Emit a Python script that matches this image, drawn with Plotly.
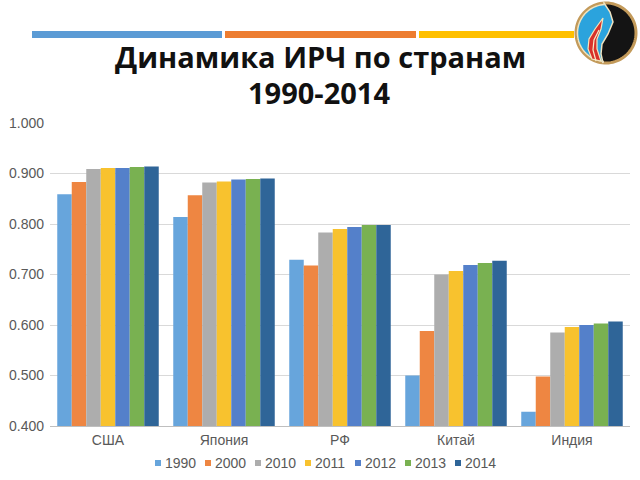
import numpy as np
import plotly.graph_objects as go

countries = ["США", "Япония", "РФ", "Китай", "Индия"]
years = ["1990", "2000", "2010", "2011", "2012", "2013", "2014"]
hdi_1990 = [0.859, 0.814, 0.729, 0.500, 0.428]
hdi_2000 = [0.883, 0.857, 0.718, 0.588, 0.498]
hdi_2010 = [0.909, 0.882, 0.783, 0.700, 0.585]
hdi_2011 = [0.911, 0.884, 0.790, 0.707, 0.596]
hdi_2012 = [0.911, 0.888, 0.794, 0.719, 0.600]
hdi_2013 = [0.913, 0.889, 0.798, 0.723, 0.603]
hdi_2014 = [0.914, 0.890, 0.798, 0.727, 0.607]
series = [hdi_1990, hdi_2000, hdi_2010, hdi_2011, hdi_2012, hdi_2013, hdi_2014]
colors = ["#67A5DC", "#EE8642", "#ADADAD", "#F8C22E", "#5480CA", "#79B151", "#2F6598"]
y_ticks = [0.4, 0.5, 0.6, 0.7, 0.8, 0.9, 1.0]
y_ticktext = ["0.400", "0.500", "0.600", "0.700", "0.800", "0.900", "1.000"]

W, H = 640, 480
ML, MR, MT, MB = 50, 10, 123, 54
PW, PH = W - ML - MR, H - MT - MB
FONT = "Liberation Sans, Arial, sans-serif"


def px(x):
    return (x - ML) / PW


def py(y):
    return (H - MB - y) / PH


fig = go.Figure()
for yr, vals, c in zip(years, series, colors):
    fig.add_trace(go.Bar(name=yr, x=countries, y=vals, marker=dict(color=c, line=dict(width=0))))

shapes = []
annotations = []
# header colour stripes
for x0, x1, c in [(32, 222, "#5B9BD5"), (225, 416, "#ED7D31"), (419, 574, "#FFC000")]:
    shapes.append(dict(type="rect", xref="paper", yref="paper", x0=px(x0), x1=px(x1),
                       y0=py(38), y1=py(31), fillcolor=c, line=dict(width=0), layer="above"))


def path_from(points, close=True):
    s = "M " + " L ".join(f"{px(a):.5f},{py(b):.5f}" for a, b in points)
    return s + (" Z" if close else "")


# logo
cx, cy, r = 606, 33, 30
t = np.linspace(0, 2 * np.pi, 90)
rim = [(cx + r * np.cos(a), cy + r * np.sin(a)) for a in t]
shapes.append(dict(type="path", xref="paper", yref="paper", path=path_from(rim),
                   fillcolor="#141414", line=dict(color="#C39A5A", width=3), layer="above"))
divide = [(603, 63), (601, 54), (602, 44), (608, 34), (613, 22), (610, 12), (604, 3)]
a0 = np.arctan2(3 - cy, 604 - cx)
a1 = np.arctan2(63 - cy, 603 - cx) - 2 * np.pi
blue = [(cx + (r - 1.5) * np.cos(a), cy + (r - 1.5) * np.sin(a)) for a in np.linspace(a0, a1, 50)]
blue += divide
shapes.append(dict(type="path", xref="paper", yref="paper", path=path_from(blue),
                   fillcolor="#2BA3DD", line=dict(color="#EFE3C0", width=1.5), layer="above"))
flame = [(592, 59), (588, 49), (589, 39), (595, 29), (603, 18), (601, 29), (597, 39), (597, 49), (601, 61)]
shapes.append(dict(type="path", xref="paper", yref="paper", path=path_from(flame),
                   fillcolor="#D8312A", line=dict(color="#F3E6BE", width=1.2), layer="above"))
strand = [(596, 61), (593, 50), (594, 40), (599, 30)]
shapes.append(dict(type="path", xref="paper", yref="paper", path=path_from(strand, close=False),
                   line=dict(color="#F6EBC8", width=1.2), layer="above"))

# title
annotations += [
    dict(text="<b>Динамика ИРЧ по странам</b>", xref="paper", yref="paper", x=px(320), y=py(56),
         xanchor="center", yanchor="middle", showarrow=False,
         font=dict(family="Open Sans", size=29, color="#111111")),
    dict(text="<b>1990-2014</b>", xref="paper", yref="paper", x=px(319), y=py(92),
         xanchor="center", yanchor="middle", showarrow=False,
         font=dict(family="Open Sans", size=29, color="#111111")),
]

# legend (square + label per series)
for i, (yr, c) in enumerate(zip(years, colors)):
    sx = 158 + 50 * i
    shapes.append(dict(type="rect", xref="paper", yref="paper", x0=px(sx - 3), x1=px(sx + 3),
                       y0=py(466), y1=py(460), fillcolor=c, line=dict(width=0)))
    annotations.append(dict(text=yr, xref="paper", yref="paper", x=px(sx + 5), y=py(463),
                            xanchor="left", yanchor="middle", showarrow=False,
                            font=dict(family=FONT, size=14, color="#595959")))

fig.update_layout(
    width=W, height=H,
    margin=dict(l=ML, r=MR, t=MT, b=MB, pad=0),
    paper_bgcolor="white", plot_bgcolor="white",
    barmode="group", bargap=0.125, bargroupgap=0,
    font=dict(family=FONT, size=14, color="#595959"),
    showlegend=False,
    xaxis=dict(showgrid=False, showline=True, linecolor="#BFBFBF", linewidth=1,
               ticks="", ticklabelstandoff=1, tickfont=dict(family=FONT, size=14, color="#595959")),
    yaxis=dict(range=[0.4, 1.0], tickvals=y_ticks, ticktext=y_ticktext, showgrid=True,
               gridcolor="#D9D9D9", gridwidth=1, zeroline=False, showline=False, ticks="",
               ticklabelstandoff=5, tickfont=dict(family=FONT, size=14, color="#595959")),
    shapes=shapes, annotations=annotations,
)

fig.write_html("out.html")
